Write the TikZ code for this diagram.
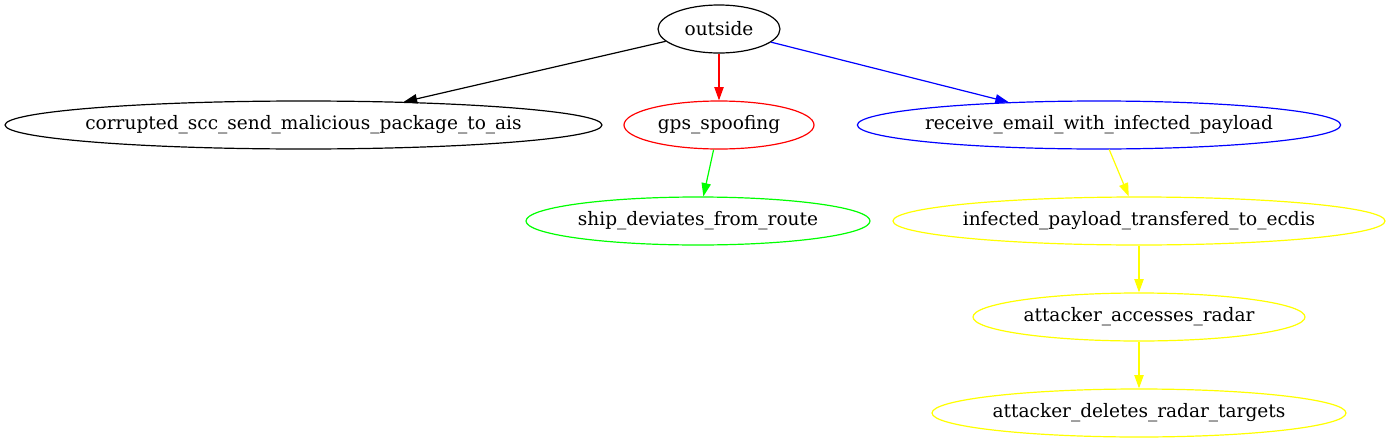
\documentclass[tikz,border=0pt]{standalone}
\usepackage{fontspec}
\setmainfont{DejaVu Serif}
\usetikzlibrary{arrows.meta,shapes.geometric}
\definecolor{gyellow}{RGB}{255,255,0}
\definecolor{ggreen}{RGB}{0,255,0}
\definecolor{gred}{RGB}{255,0,0}
\definecolor{gblue}{RGB}{0,0,255}
\newcommand{\zlbl}[1]{\makebox[0pt]{#1}}
\tikzset{
  gnode/.style={ellipse, draw, inner sep=0pt, minimum height=36pt, font=\fontsize{13.9}{16}\selectfont, line width=0.9pt},
  gedge/.style={-{Triangle[length=10pt,width=7pt]}, line width=0.9pt},
}
\begin{document}
\begin{tikzpicture}[x=0.75pt,y=-0.75pt]
\useasboundingbox (0,0) rectangle (1390,443);
\node[gnode, minimum width=91.5pt] (out) at (719,29) {\zlbl{outside}};
\node[gnode, minimum width=447.75pt] (cor) at (303.5,125) {\zlbl{corrupted\_scc\_send\_malicious\_package\_to\_ais}};
\node[gnode, draw=gred, minimum width=142.5pt] (gps) at (719,125) {\zlbl{gps\_spoofing}};
\node[gnode, draw=gblue, minimum width=362.5pt] (rec) at (1099,125) {\zlbl{receive\_email\_with\_infected\_payload}};
\node[gnode, draw=ggreen, minimum width=258pt] (ship) at (698,221) {\zlbl{ship\_deviates\_from\_route}};
\node[gnode, draw=gyellow, minimum width=369pt] (inf) at (1139,221) {\zlbl{infected\_payload\_transfered\_to\_ecdis}};
\node[gnode, draw=gyellow, minimum width=249pt] (acc) at (1139,317) {\zlbl{attacker\_accesses\_radar}};
\node[gnode, draw=gyellow, minimum width=310.5pt] (del) at (1139,413) {\zlbl{attacker\_deletes\_radar\_targets}};
\draw[gedge] (out) -- (cor);
\draw[gedge, gred] (out) -- (gps);
\draw[gedge, gblue] (out) -- (rec);
\draw[gedge, ggreen] (gps) -- (ship);
\draw[gedge, gyellow] (rec) -- (inf);
\draw[gedge, gyellow] (inf) -- (acc);
\draw[gedge, gyellow] (acc) -- (del);
\end{tikzpicture}
\end{document}
